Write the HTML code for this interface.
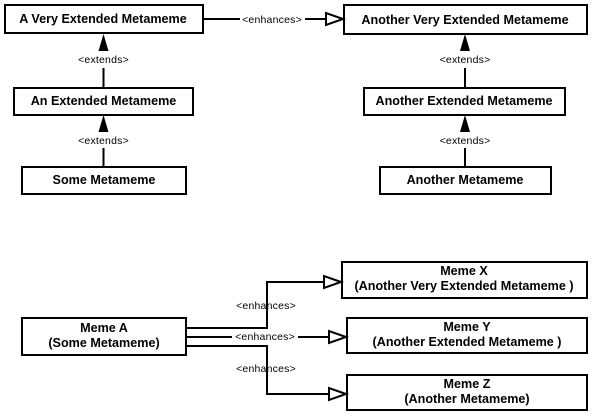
<!DOCTYPE html>
<html><head><style>
html,body{margin:0;padding:0;background:#fff;}
svg{display:block;}
.b{font-family:"Liberation Sans",Arial,sans-serif;font-weight:bold;font-size:12.6px;fill:#000;}
.l{font-family:"Liberation Sans",Arial,sans-serif;font-size:10.5px;letter-spacing:0.2px;fill:#000;}
</style></head><body>
<svg width="593" height="416" viewBox="0 0 593 416" xmlns="http://www.w3.org/2000/svg">
<g fill="#fff" stroke="#000" stroke-width="2">
<rect x="5" y="5" width="198" height="28"/>
<rect x="14" y="88" width="179" height="27"/>
<rect x="22" y="167" width="164" height="27"/>
<rect x="344" y="5" width="243" height="29"/>
<rect x="364" y="88" width="201" height="27"/>
<rect x="380" y="167" width="171" height="27"/>
<rect x="22" y="318" width="164" height="37"/>
<rect x="342" y="262" width="245" height="36"/>
<rect x="347" y="318" width="240" height="35"/>
<rect x="347" y="375" width="240" height="35"/>
</g>
<g stroke="#000" stroke-width="2" fill="none">
<line x1="103.5" y1="68" x2="103.5" y2="88"/>
<line x1="103.5" y1="148" x2="103.5" y2="167"/>
<line x1="465" y1="68" x2="465" y2="88"/>
<line x1="465" y1="148" x2="465" y2="167"/>
<line x1="203" y1="19" x2="240" y2="19"/>
<line x1="305" y1="19" x2="326" y2="19"/>
<polyline points="186,328 267,328 267,282 326,282"/>
<line x1="186" y1="337" x2="232" y2="337"/>
<line x1="298" y1="337" x2="330" y2="337"/>
<polyline points="186,346 267,346 267,394 330,394"/>
</g>
<g fill="#000">
<polygon points="103.5,34 98.5,51 108.5,51"/>
<polygon points="103.5,115 98.5,132 108.5,132"/>
<polygon points="465,34 460,51 470,51"/>
<polygon points="465,115 460,132 470,132"/>
</g>
<g fill="#fff" stroke="#000" stroke-width="2">
<polygon points="343,19 326,13 326,25"/>
<polygon points="341,282 324,276 324,288"/>
<polygon points="346,337 329,331 329,343"/>
<polygon points="346,394 329,388 329,400"/>
</g>
<g class="b" text-anchor="middle">
<text x="103" y="23">A Very Extended Metameme</text>
<text x="103.5" y="105">An Extended Metameme</text>
<text x="104" y="184">Some Metameme</text>
<text x="465" y="24">Another Very Extended Metameme</text>
<text x="464" y="105">Another Extended Metameme</text>
<text x="465" y="184">Another Metameme</text>
<text x="104" y="332">Meme A</text>
<text x="104" y="347">(Some Metameme)</text>
<text x="464" y="275">Meme X</text>
<text x="464" y="290">(Another Very Extended Metameme )</text>
<text x="467" y="331">Meme Y</text>
<text x="467" y="346">(Another Extended Metameme )</text>
<text x="467" y="388">Meme Z</text>
<text x="467" y="403">(Another Metameme)</text>
</g>
<g class="l" text-anchor="middle">
<text x="272" y="23">&lt;enhances&gt;</text>
<text x="103.5" y="63">&lt;extends&gt;</text>
<text x="103.5" y="144">&lt;extends&gt;</text>
<text x="465" y="63">&lt;extends&gt;</text>
<text x="465" y="144">&lt;extends&gt;</text>
<text x="266" y="309">&lt;enhances&gt;</text>
<text x="265" y="340">&lt;enhances&gt;</text>
<text x="266" y="372">&lt;enhances&gt;</text>
</g>
</svg>
</body></html>
